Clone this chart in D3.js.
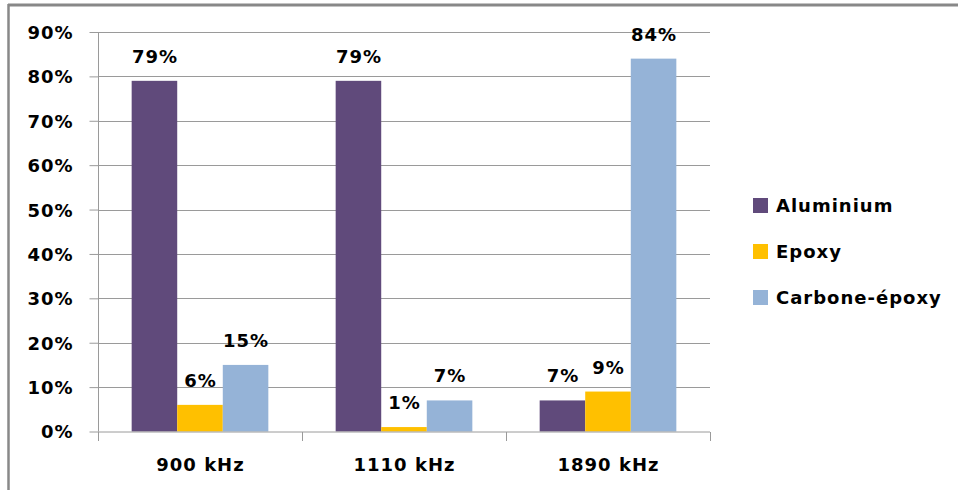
<!DOCTYPE html>
<html><head><meta charset="utf-8">
<script src="https://cdn.jsdelivr.net/npm/d3@7"></script>
<style>body{margin:0;background:#fff}svg{display:block}</style>
</head><body>
<script>
const categories = ["900 kHz", "1110 kHz", "1890 kHz"];
const seriesNames = ["Aluminium", "Epoxy", "Carbone-époxy"];
const aluminium = [79, 79, 7];
const epoxy = [6, 1, 9];
const carboneEpoxy = [15, 7, 84];
const yTicks = [0, 10, 20, 30, 40, 50, 60, 70, 80, 90];
const colors = ["#604A7B", "#FFC000", "#95B3D7"];
const seriesValues = [aluminium, epoxy, carboneEpoxy];

(function () {
const W = 958, H = 490;
const svg = d3.select("body").append("svg").attr("width", W).attr("height", H);
const font = "'DejaVu Sans', Verdana, sans-serif";
const fs = 18, ls = 1;
function styleText(sel) {
  sel.attr("font-family", font).attr("font-weight", "bold").attr("font-size", fs)
     .attr("letter-spacing", ls).attr("fill", "#000");
}

// frame
svg.append("line").attr("x1", 8).attr("x2", W).attr("y1", 5).attr("y2", 5).attr("stroke", "#888").attr("stroke-width", 3);
svg.append("line").attr("x1", 8.5).attr("x2", 8.5).attr("y1", 4).attr("y2", H).attr("stroke", "#888").attr("stroke-width", 2.5);

const pLeft = 98, pRight = 710, pTop = 32, pBottom = 431.5;
const y = d3.scaleLinear().domain([0, 90]).range([pBottom, pTop]);
const x0 = d3.scaleBand().domain(categories).range([pLeft, pRight]).paddingInner(0.33).paddingOuter(0.165);
const x1 = d3.scaleBand().domain(seriesNames).range([0, x0.bandwidth()]);

// gridlines
svg.append("g").selectAll("line").data(yTicks.filter(d => d > 0)).join("line")
  .attr("x1", pLeft).attr("x2", pRight).attr("y1", d => Math.round(y(d)) + 0.5).attr("y2", d => Math.round(y(d)) + 0.5)
  .attr("stroke", "#9a9a9a").attr("stroke-width", 1);

// y axis
const yAxis = svg.append("g").attr("transform", `translate(${pLeft + 0.5},0)`)
  .call(d3.axisLeft(y).tickValues(yTicks).tickFormat(d => d + "%").tickSize(9).tickPadding(17));
yAxis.selectAll("path,line").attr("stroke", "#9a9a9a");
yAxis.select(".domain").attr("d", `M0,${pTop}V${pBottom}`);
yAxis.selectAll("text").call(styleText).attr("dy", "0.36em").attr("dx", ls);

// bars
const groups = svg.append("g").selectAll("g").data(categories).join("g")
  .attr("transform", d => `translate(${x0(d)},0)`);
groups.selectAll("rect").data((c, i) => seriesNames.map((s, j) => ({s, j, v: seriesValues[j][i]}))).join("rect")
  .attr("x", d => x1(d.s)).attr("width", x1.bandwidth())
  .attr("y", d => y(d.v)).attr("height", d => y(0) - y(d.v))
  .attr("fill", d => colors[d.j]);
groups.selectAll("text").data((c, i) => seriesNames.map((s, j) => ({s, j, v: seriesValues[j][i]}))).join("text")
  .attr("x", d => x1(d.s) + x1.bandwidth() / 2 + ls / 2).attr("y", d => y(d.v) - 18)
  .attr("text-anchor", "middle").call(styleText)
  .text(d => d.v + "%");

// x axis
const xAxis = svg.append("g").attr("transform", `translate(0,${pBottom + 0.5})`);
xAxis.append("line").attr("x1", pLeft).attr("x2", pRight).attr("stroke", "#9a9a9a");
const bounds = [pLeft, ...categories.map(c => x0(c) + x0.bandwidth() + x0.step() * x0.paddingInner() / 2)];
xAxis.selectAll("line.t").data(bounds).join("line").attr("class", "t")
  .attr("x1", d => Math.round(d) + 0.5).attr("x2", d => Math.round(d) + 0.5).attr("y1", 0).attr("y2", 9).attr("stroke", "#9a9a9a");
xAxis.selectAll("text").data(categories).join("text")
  .attr("x", d => x0(d) + x0.bandwidth() / 2 + ls / 2).attr("y", 38.5)
  .attr("text-anchor", "middle").call(styleText)
  .text(d => d);

// legend
const legend = svg.append("g").selectAll("g").data(seriesNames).join("g")
  .attr("transform", (d, i) => `translate(753,${198 + i * 46})`);
legend.append("rect").attr("width", 15).attr("height", 15).attr("fill", (d, i) => colors[i]);
legend.append("text").attr("x", 23).attr("y", 14).call(styleText).text(d => d);
})();
</script>
</body></html>
